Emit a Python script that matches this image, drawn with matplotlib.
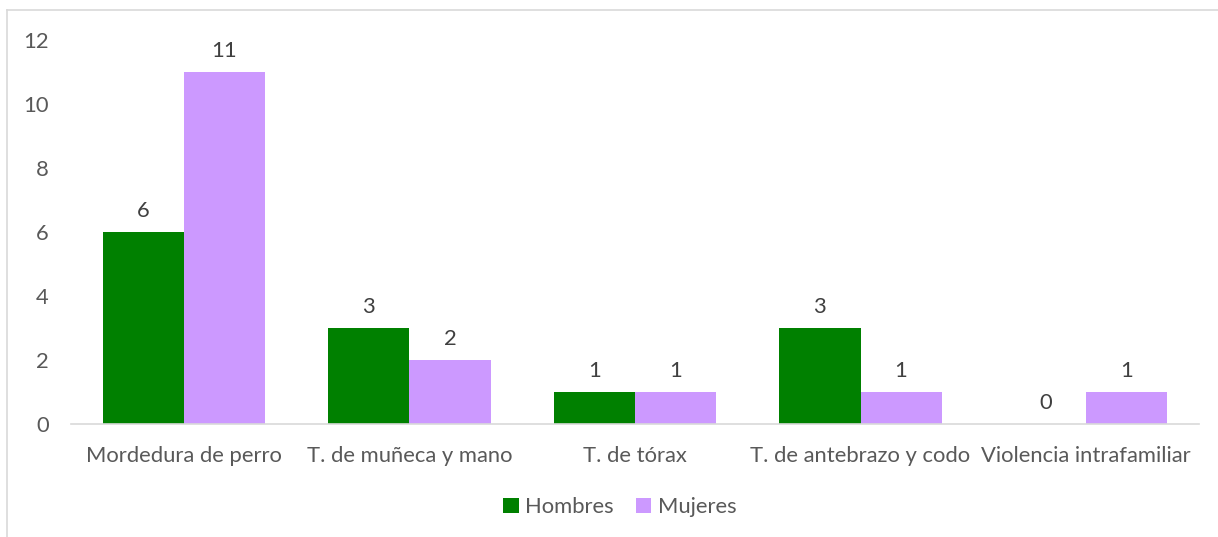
import matplotlib.pyplot as plt
import numpy as np
from matplotlib.lines import Line2D

categories = ["Mordedura de perro", "T. de muñeca y mano", "T. de tórax",
              "T. de antebrazo y codo", "Violencia intrafamiliar"]
hombres = [6, 3, 1, 3, 0]
mujeres = [11, 2, 1, 1, 1]
yticks = [0, 2, 4, 6, 8, 10, 12]

plt.rcParams['font.family'] = ['Lato', 'DejaVu Sans']
txt = '#595959'
fs = 15.8

fig = plt.figure(figsize=(12.18, 5.37), dpi=100)
ax = fig.add_axes([0.0583, 0.2104, 0.926, 0.7151])

x = np.arange(len(categories))
w = 0.36
b1 = ax.bar(x - w / 2, hombres, w, color='#008000', label='Hombres')
b2 = ax.bar(x + w / 2, mujeres, w, color='#CC99FF', label='Mujeres')

for bars in (b1, b2):
    for rect in bars:
        h = rect.get_height()
        ax.annotate(f"{int(h)}", (rect.get_x() + rect.get_width() / 2, h),
                    xytext=(0, 8), textcoords='offset points',
                    ha='center', va='bottom', fontsize=fs, color='#404040')

ax.set_xlim(-0.5, len(categories) - 0.5)
ax.set_ylim(0, 12)
ax.set_yticks(yticks)
ax.set_xticks(x)
ax.set_xticklabels(categories)
ax.tick_params(axis='both', length=0, labelsize=fs, colors=txt)
ax.tick_params(axis='x', pad=16)
ax.tick_params(axis='y', pad=16)

for s in ['top', 'right', 'left']:
    ax.spines[s].set_visible(False)
ax.spines['bottom'].set_color('#D9D9D9')
ax.spines['bottom'].set_linewidth(1.2)

fig.legend(loc='center', bbox_to_anchor=(0.509, 0.056), ncol=2, frameon=False,
           fontsize=fs, labelcolor=txt, handlelength=0.7, handleheight=0.7,
           handletextpad=0.3, columnspacing=1.0)

# outer chart border (partly cut off)
fig.add_artist(Line2D([7 / 1218, 7 / 1218], [0, 1 - 10 / 537], color='#D9D9D9', lw=1.2))
fig.add_artist(Line2D([7 / 1218, 1], [1 - 10 / 537, 1 - 10 / 537], color='#D9D9D9', lw=1.2))

fig.savefig('out.png', dpi=100)
